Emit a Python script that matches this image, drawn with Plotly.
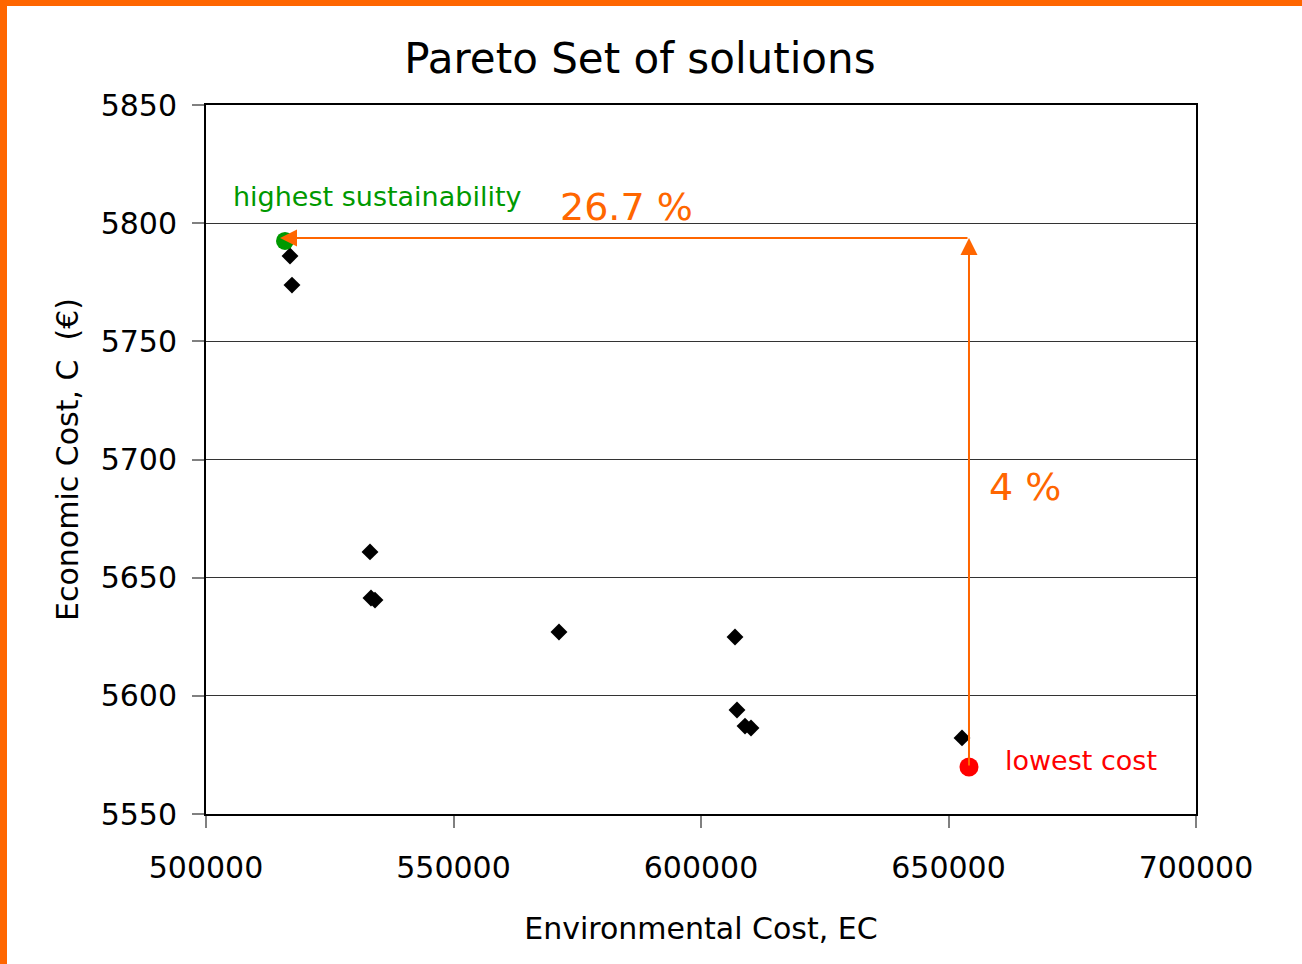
import plotly.graph_objects as go

# Pareto set (black diamonds)
env_cost = [516970, 517370, 533130, 533330, 534140, 571310, 606870, 607270, 608890, 610100, 652730]
econ_cost = [5786.1, 5773.8, 5660.9, 5641.4, 5640.5, 5627.0, 5624.9, 5594.0, 5587.2, 5586.4, 5582.2]

# highlighted solutions
best_sust_x = [515960]
best_sust_y = [5792.5]
low_cost_x = [654140]
low_cost_y = [5569.9]

# annotation data
arrow_level = 5793.7
arrow_tip_x = 514950
x_ticks = [500000, 550000, 600000, 650000, 700000]
y_ticks = [5550, 5600, 5650, 5700, 5750, 5800, 5850]

FONT = "DejaVu Sans"
ORANGE = "#FF6600"

fig = go.Figure()
fig.add_trace(go.Scatter(x=env_cost, y=econ_cost, mode="markers",
                         marker=dict(symbol="diamond", size=13, color="black"),
                         showlegend=False))
fig.add_trace(go.Scatter(x=best_sust_x, y=best_sust_y, mode="markers",
                         marker=dict(symbol="circle", size=18, color="#009900"),
                         showlegend=False))
fig.add_trace(go.Scatter(x=low_cost_x, y=low_cost_y, mode="markers",
                         marker=dict(symbol="circle", size=19, color="#FF0000"),
                         showlegend=False))

# arrows
fig.add_annotation(x=arrow_tip_x, y=arrow_level, ax=low_cost_x[0], ay=arrow_level,
                   xref="x", yref="y", axref="x", ayref="y", text="", showarrow=True,
                   arrowhead=2, arrowsize=1.7, arrowwidth=2, arrowcolor=ORANGE)
fig.add_annotation(x=low_cost_x[0], y=arrow_level, ax=low_cost_x[0], ay=low_cost_y[0],
                   xref="x", yref="y", axref="x", ayref="y", text="", showarrow=True,
                   arrowhead=2, arrowsize=1.7, arrowwidth=2, arrowcolor=ORANGE)

# labels
fig.add_annotation(x=504950, y=5811.3, xref="x", yref="y", text="highest sustainability",
                   showarrow=False, xanchor="left", yanchor="middle",
                   font=dict(family=FONT, size=27, color="#009900"))
fig.add_annotation(x=571100, y=5806.8, xref="x", yref="y", text="26.7 %",
                   showarrow=False, xanchor="left", yanchor="middle",
                   font=dict(family=FONT, size=38, color=ORANGE))
fig.add_annotation(x=657700, y=5688.3, xref="x", yref="y", text="4 %",
                   showarrow=False, xanchor="left", yanchor="middle",
                   font=dict(family=FONT, size=38, color=ORANGE))
fig.add_annotation(x=661000, y=5572.5, xref="x", yref="y", text="lowest cost",
                   showarrow=False, xanchor="left", yanchor="middle",
                   font=dict(family=FONT, size=27, color="#FF0000"))

# orange page border (top and left)
fig.add_shape(type="rect", xref="paper", yref="paper",
              x0=-206/990, x1=1096/990, y0=(814-6)/709, y1=814/709,
              fillcolor=ORANGE, line_width=0, layer="above")
fig.add_shape(type="rect", xref="paper", yref="paper",
              x0=-206/990, x1=-199/990, y0=-150/709, y1=814/709,
              fillcolor=ORANGE, line_width=0, layer="above")

fig.update_layout(
    width=1302, height=964,
    margin=dict(l=206, r=106, t=105, b=150),
    paper_bgcolor="white", plot_bgcolor="white",
    font=dict(family=FONT, size=30, color="black"),
    title=dict(text="Pareto Set of solutions", x=0.4915, xanchor="center",
               y=1 - 58/964, yanchor="middle", font=dict(family=FONT, size=42, color="black")),
    xaxis=dict(range=[500000, 700000], tickvals=x_ticks, ticktext=[str(v) for v in x_ticks],
               showgrid=False, zeroline=False, showline=True, mirror=True,
               linecolor="black", linewidth=2, ticks="outside", ticklen=12,
               tickcolor="#808080", tickwidth=2, ticklabelstandoff=14,
               tickfont=dict(family=FONT, size=30),
               title=dict(text="Environmental Cost, EC", font=dict(family=FONT, size=30), standoff=34)),
    yaxis=dict(range=[5550, 5850], tickvals=y_ticks, ticktext=[str(v) for v in y_ticks],
               showgrid=True, gridcolor="#333333", gridwidth=1, zeroline=False,
               showline=True, mirror=True, linecolor="black", linewidth=2,
               ticks="outside", ticklen=12, tickcolor="#808080", tickwidth=2,
               ticklabelstandoff=9, tickfont=dict(family=FONT, size=30),
               title=dict(text="Economic Cost, C  (€)", font=dict(family=FONT, size=30), standoff=13)),
)

fig.write_html("out.html", config={"displayModeBar": False},
               post_script="document.body.style.margin='0';")
